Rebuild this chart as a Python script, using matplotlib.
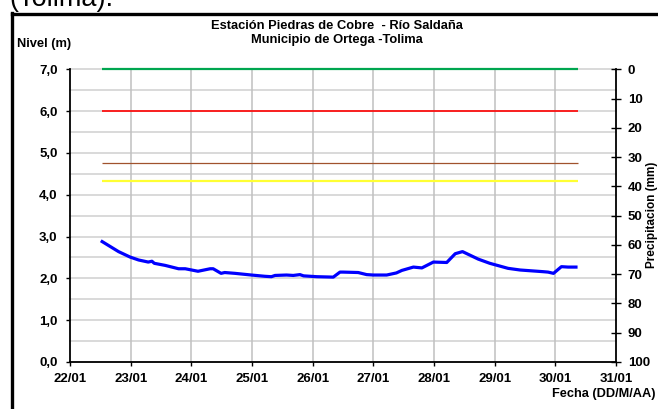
import matplotlib
matplotlib.use("Agg")
import matplotlib.pyplot as plt
from matplotlib.lines import Line2D

plt.rcParams['font.family'] = ['Liberation Sans', 'DejaVu Sans']

# ---- data ----
day = [22.53, 22.80, 22.99, 23.13, 23.29, 23.35, 23.39, 23.57, 23.79, 23.90,
       24.11, 24.31, 24.36, 24.49, 24.55, 24.72, 24.99, 25.21, 25.32, 25.38,
       25.57, 25.68, 25.79, 25.85, 26.07, 26.34, 26.45, 26.50, 26.75, 26.89,
       27.00, 27.22, 27.38, 27.47, 27.66, 27.80, 27.99, 28.21, 28.35, 28.47,
       28.73, 28.92, 29.22, 29.42, 29.80, 29.88, 29.97, 30.10, 30.21, 30.34]
nivel = [2.88, 2.64, 2.51, 2.44, 2.39, 2.41, 2.36, 2.31, 2.23, 2.23,
         2.17, 2.23, 2.23, 2.12, 2.14, 2.12, 2.08, 2.05, 2.04, 2.07,
         2.08, 2.07, 2.09, 2.06, 2.04, 2.03, 2.15, 2.15, 2.14, 2.09,
         2.08, 2.08, 2.13, 2.19, 2.27, 2.25, 2.39, 2.38, 2.59, 2.64,
         2.46, 2.36, 2.24, 2.20, 2.16, 2.15, 2.12, 2.28, 2.27, 2.27]
umbral_rango = [22.53, 30.37]
umbral_valores = [7.0, 6.0, 4.76, 4.32]
umbral_colores = ['#00A650', '#FF0000', '#A0522D', '#FFFF33']
umbral_anchos = [1.6, 1.2, 0.9, 1.6]
x_ticks = [22, 23, 24, 25, 26, 27, 28, 29, 30, 31]
x_labels = ['22/01', '23/01', '24/01', '25/01', '26/01', '27/01', '28/01', '29/01', '30/01', '31/01']
y_ticks = [0, 1, 2, 3, 4, 5, 6, 7]
y_labels = ['0,0', '1,0', '2,0', '3,0', '4,0', '5,0', '6,0', '7,0']
p_ticks = [0, 10, 20, 30, 40, 50, 60, 70, 80, 90, 100]

W, H = 658, 409
fig = plt.figure(figsize=(W / 100, H / 100), dpi=100)
ax = fig.add_axes([70 / W, 1 - 362 / H, (616 - 70) / W, (362 - 69.3) / H])

ax.set_xlim(22, 31)
ax.set_ylim(0, 7)

# grid
for yv in [i * 0.5 for i in range(15)]:
    ax.axhline(yv, color='#d9d9d9', lw=1.4, zorder=0, clip_on=False)
for xv in x_ticks[1:-1]:
    ax.axvline(xv, color='#c0c0c0', lw=1.1, zorder=0)

for v, c, w in zip(umbral_valores, umbral_colores, umbral_anchos):
    ax.plot(umbral_rango, [v, v], color=c, lw=w, zorder=3, solid_capstyle='butt', clip_on=False)

ax.plot(day, nivel, color='#0000FF', lw=2.3, zorder=4)

ax.set_xticks(x_ticks)
ax.set_xticklabels(x_labels, fontsize=9.5, fontweight='bold')
ax.set_yticks(y_ticks)
ax.set_yticklabels(y_labels, fontsize=9.5, fontweight='bold')
ax.tick_params(axis='both', direction='out', length=3, width=1.0)
ax.tick_params(axis='y', pad=6)
ax.tick_params(axis='x', pad=5)
for s in ['top', 'right']:
    ax.spines[s].set_visible(False)
for s in ['left', 'bottom']:
    ax.spines[s].set_linewidth(1.3)

ax2 = ax.twinx()
ax2.set_ylim(100, 0)
ax2.set_yticks(p_ticks)
ax2.set_yticklabels([str(p) for p in p_ticks], fontsize=9.5, fontweight='bold')
ax2.tick_params(axis='y', direction='inout', length=7, width=1.0, pad=5)
for s in ['top', 'left', 'bottom']:
    ax2.spines[s].set_visible(False)
ax2.spines['right'].set_linewidth(1.3)

# texts
fig.text(337 / W, 1 - 26 / H, 'Estación Piedras de Cobre  - Río Saldaña', ha='center', va='center',
         fontsize=9.3, fontweight='bold')
fig.text(337 / W, 1 - 40 / H, 'Municipio de Ortega -Tolima', ha='center', va='center',
         fontsize=9.3, fontweight='bold')
fig.text(17 / W, 1 - 44 / H, 'Nivel (m)', ha='left', va='center', fontsize=9.3, fontweight='bold')
fig.text(656 / W, 1 - 394 / H, 'Fecha (DD/M/AA)', ha='right', va='center', fontsize=9.2, fontweight='bold')
fig.text(652.5 / W, 1 - 215 / H, 'Precipitacion (mm)', ha='center', va='center', rotation=90,
         fontsize=8.5, fontweight='bold')
fig.text(9 / W, 1 - 6 / H, '(Tolima).', ha='left', va='baseline', fontsize=19.5)

# frame
fig.add_artist(Line2D([11.5 / W, 11.5 / W], [0, 1 - 13 / H], color='black', lw=2.4,
                      transform=fig.transFigure, solid_capstyle='projecting'))
fig.add_artist(Line2D([11.5 / W, 1.0], [1 - 14.3 / H, 1 - 14.3 / H], color='black', lw=2.4,
                      transform=fig.transFigure))

fig.savefig('out.png', dpi=100)
